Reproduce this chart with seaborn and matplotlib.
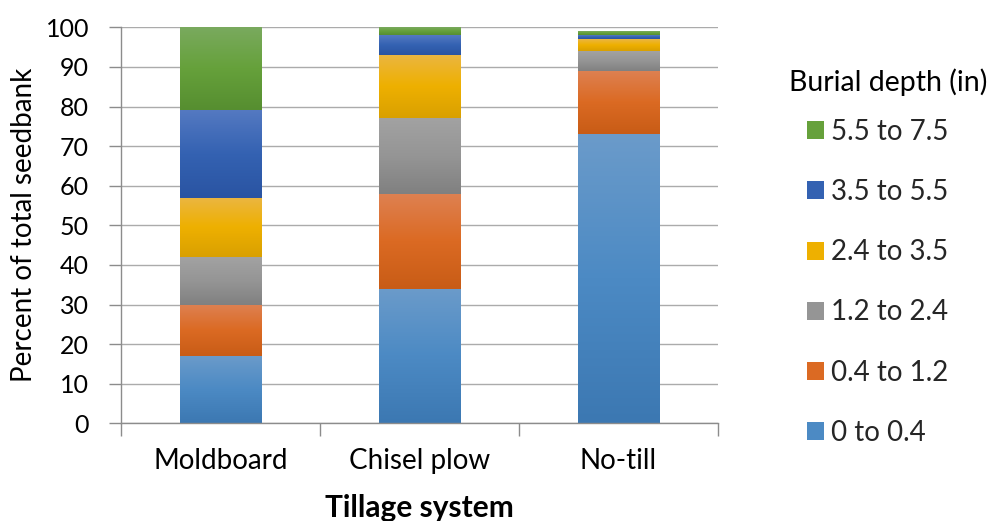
import numpy as np
import matplotlib
matplotlib.use("Agg")
import matplotlib.pyplot as plt
import seaborn as sns
from matplotlib.colors import to_rgb
from matplotlib.patches import Patch

# ---- data ----
systems = ["Moldboard", "Chisel plow", "No-till"]
depth_labels = ["0 to 0.4", "0.4 to 1.2", "1.2 to 2.4", "2.4 to 3.5", "3.5 to 5.5", "5.5 to 7.5"]
depth_0_04 = [17, 34, 73]
depth_04_12 = [13, 24, 16]
depth_12_24 = [12, 19, 5]
depth_24_35 = [15, 16, 3]
depth_35_55 = [22, 5, 1]
depth_55_75 = [21, 2, 1]
y_ticks = [0, 10, 20, 30, 40, 50, 60, 70, 80, 90, 100]

series = [depth_0_04, depth_04_12, depth_12_24, depth_24_35, depth_35_55, depth_55_75]

# gradient stops (top, middle, bottom) per series
grads = [
    ("#6B9BCA", "#4C8AC4", "#3C78B2"),
    ("#DE8152", "#DB6A23", "#C85C16"),
    ("#A2A2A2", "#959595", "#808080"),
    ("#EBB642", "#EEB000", "#D9A000"),
    ("#5479C1", "#3462B2", "#2A54A2"),
    ("#7AAA5F", "#66A13B", "#568E30"),
]

sns.set_theme(style="white")
plt.rcParams["font.family"] = ["Lato", "DejaVu Sans"]

fig = plt.figure(figsize=(9.96, 5.21), dpi=100)
ax = fig.add_axes([121 / 996, 1 - 423.3 / 521, 597 / 996, (423.3 - 27.3) / 521])


def gradient_array(stops, n=200):
    cols = np.array([to_rgb(c) for c in stops])
    t = np.linspace(0, 1, n)
    out = np.empty((n, 1, 3))
    for k in range(3):
        out[:, 0, k] = np.interp(t, [0, 0.5, 1], cols[:, k])
    return out


bottom = np.zeros(len(systems))
z = 2.0
for vals, lab, stops in zip(series, depth_labels, grads):
    n_before = len(ax.patches)
    sns.barplot(x=systems, y=vals, bottom=bottom.copy(), order=systems,
                color=stops[1], saturation=1, width=0.41, errorbar=None,
                linewidth=0, ax=ax)
    new_patches = ax.patches[n_before:]
    arr = gradient_array(stops)
    for p in new_patches:
        x0, y0 = p.get_x(), p.get_y()
        w, h = p.get_width(), p.get_height()
        p.set_zorder(z)
        im = ax.imshow(arr, extent=[x0, x0 + w, y0, y0 + h], aspect="auto",
                       origin="upper", interpolation="bilinear", zorder=z + 0.01)
        im.set_clip_path(p)
        z += 0.1
    bottom = bottom + np.array(vals, dtype=float)

ax.set_xlim(-0.5, 2.5)
ax.set_ylim(0, 100)
ax.set_yticks(y_ticks)
ax.set_yticklabels([str(v) for v in y_ticks])

ax.yaxis.grid(True, color="#ABABAB", linewidth=1.0)
ax.xaxis.grid(False)
ax.set_axisbelow(True)
for s in ["top", "right"]:
    ax.spines[s].set_visible(False)
for s in ["left", "bottom"]:
    ax.spines[s].set_color("#8C8C8C")
    ax.spines[s].set_linewidth(1.0)

ax.tick_params(axis="y", left=True, length=9, width=1, color="#8C8C8C",
               pad=14, labelsize=18, labelcolor="black")
ax.set_xticks([-0.5, 0.5, 1.5, 2.5], minor=True)
ax.tick_params(axis="x", which="minor", bottom=True, length=9, width=1, color="#8C8C8C")
ax.tick_params(axis="x", which="major", bottom=False, length=0, pad=18,
               labelsize=20, labelcolor="black")

ax.set_ylabel("Percent of total seedbank", fontsize=20, labelpad=6, color="black")
ax.set_xlabel("Tillage system", fontsize=21.5, fontweight="bold", labelpad=14, color="black")

# legend
handles = [Patch(facecolor=g[1], edgecolor="none") for g in grads][::-1]
labels = depth_labels[::-1]
fig.text(888 / 996, 1 - 82 / 521, "Burial depth (in)", fontsize=20.5,
         ha="center", va="center", color="black")
leg = fig.legend(handles, labels, loc="upper left",
                 bbox_to_anchor=(807 / 996, 1 - 119 / 521),
                 frameon=False, fontsize=20, handlelength=0.62, handleheight=0.62,
                 handletextpad=0.25, labelspacing=1.23, borderpad=0, borderaxespad=0)

fig.savefig("out.png", dpi=100)
